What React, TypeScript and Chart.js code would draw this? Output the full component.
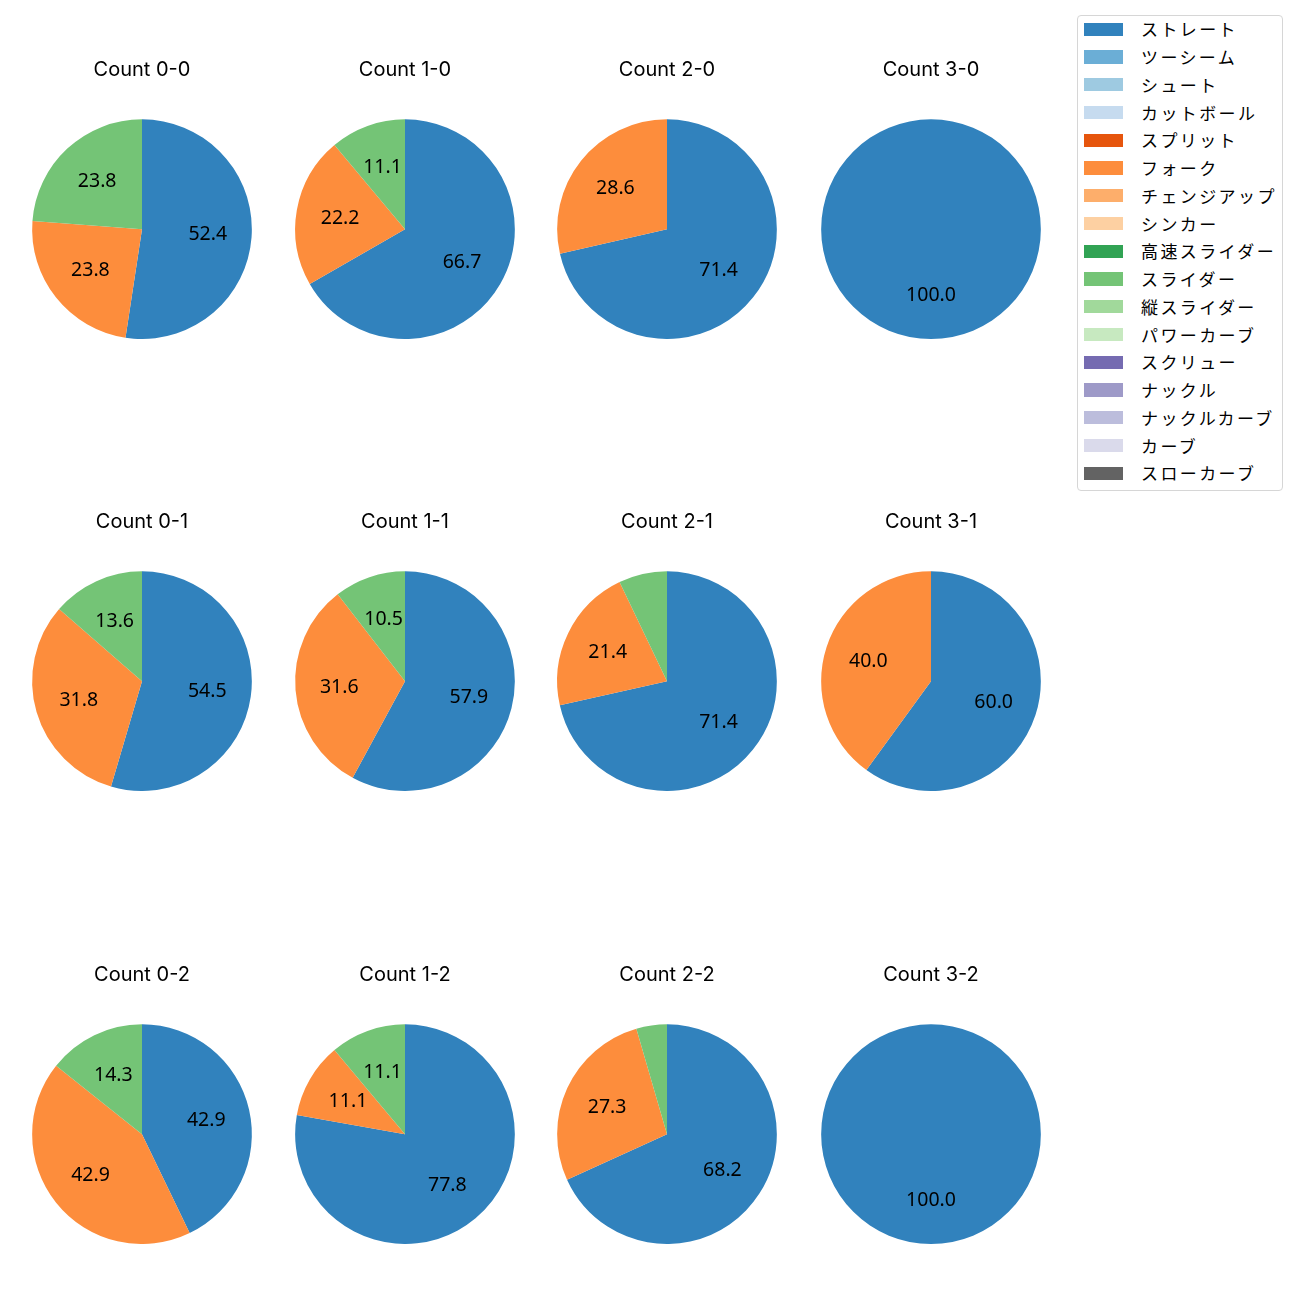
import React, { useEffect, useRef } from "react";
import { Chart, registerables } from "chart.js";

Chart.register(...registerables);

const pitchTypes = [
  "ストレート", "ツーシーム", "シュート", "カットボール", "スプリット", "フォーク",
  "チェンジアップ", "シンカー", "高速スライダー", "スライダー", "縦スライダー",
  "パワーカーブ", "スクリュー", "ナックル", "ナックルカーブ", "カーブ", "スローカーブ",
];
const pitchColors = [
  "#3182bd", "#6baed6", "#9ecae1", "#c6dbef", "#e6550d", "#fd8d3c",
  "#fdae6b", "#fdd0a2", "#31a354", "#74c476", "#a1d99b", "#c7e9c0",
  "#756bb1", "#9e9ac8", "#bcbddc", "#dadaeb", "#636363",
];

// counts in grid order (rows: strikes, columns: balls)
const countLabels = ["0-0", "1-0", "2-0", "3-0", "0-1", "1-1", "2-1", "3-1", "0-2", "1-2", "2-2", "3-2"];
const straightPct = [52.4, 66.7, 71.4, 100.0, 54.5, 57.9, 71.4, 60.0, 42.9, 77.8, 68.2, 100.0];
const forkPct = [23.8, 22.2, 28.6, 0, 31.8, 31.6, 21.4, 40.0, 42.9, 11.1, 27.3, 0];
const sliderPct = [23.8, 11.1, 0, 0, 13.6, 10.5, 7.1, 0, 14.3, 11.1, 4.5, 0];

const CJK = "'Noto Sans CJK JP'";
const colCenters = [141.5, 405, 667, 930.5];
const rowCenters = [229.3, 681.5, 1134];

const labelPlugin = {
  id: "pctLabels",
  afterDatasetsDraw(chart: any) {
    const meta = chart.getDatasetMeta(0);
    const data = chart.data.datasets[0].data as number[];
    const ctx = chart.ctx;
    ctx.save();
    ctx.font = `19.5px 'Noto Sans', ${CJK}, sans-serif`;
    ctx.fillStyle = "#000";
    ctx.textAlign = "center";
    ctx.textBaseline = "middle";
    meta.data.forEach((arc: any, i: number) => {
      const v = data[i];
      if (v < 10) return;
      const p = arc.getProps(["x", "y", "startAngle", "endAngle", "outerRadius"], true);
      const mid = (p.startAngle + p.endAngle) / 2;
      const r = p.outerRadius * 0.6;
      ctx.fillText(v.toFixed(1), p.x + Math.cos(mid) * r, p.y + Math.sin(mid) * r + 0.5);
    });
    ctx.restore();
  },
};

function PieChart({ idx }: { idx: number }) {
  const ref = useRef<HTMLCanvasElement>(null);
  useEffect(() => {
    const values = pitchTypes.map((name) => {
      if (name === "ストレート") return straightPct[idx];
      if (name === "フォーク") return forkPct[idx];
      if (name === "スライダー") return sliderPct[idx];
      return 0;
    });
    const chart = new Chart(ref.current!, {
      type: "pie",
      data: {
        labels: pitchTypes,
        datasets: [
          {
            data: values,
            backgroundColor: pitchColors,
            borderWidth: 0,
            hoverOffset: 0,
            offset: 0,
          } as any,
        ],
      },
      options: {
        responsive: false,
        animation: false,
        events: [],
        layout: { padding: 0 },
        plugins: {
          legend: { display: false },
          tooltip: { enabled: false },
          title: {
            display: true,
            text: `Count ${countLabels[idx]}`,
            color: "#000",
            font: { family: `Inter, ${CJK}, sans-serif`, size: 20, weight: "normal", lineHeight: 1.2 },
            padding: { top: 1, bottom: 37.3 },
          },
        },
      },
      plugins: [labelPlugin],
    });
    return () => chart.destroy();
  }, [idx]);
  const col = idx % 4;
  const row = Math.floor(idx / 4);
  const cx = colCenters[col];
  const cy = rowCenters[row];
  return (
    <canvas
      ref={ref}
      width={262}
      height={282}
      style={{ position: "absolute", left: cx - 131, top: cy - 172.3, width: 262, height: 282 }}
    />
  );
}

export default function App() {
  return (
    <div style={{ position: "absolute", left: 0, top: 0, width: 1300, height: 1300, background: "#fff" }}>
      {countLabels.map((_, i) => (
        <PieChart key={i} idx={i} />
      ))}
      <div
        style={{
          position: "absolute",
          left: 1077,
          top: 15,
          width: 206,
          height: 476,
          border: "1px solid #d6d6d6",
          borderRadius: 4,
          boxSizing: "border-box",
        }}
      />
      {pitchTypes.map((name, i) => {
        const yc = 29.3 + i * 27.75;
        return (
          <React.Fragment key={name}>
            <div
              style={{
                position: "absolute",
                left: 1084,
                top: yc - 6.7,
                width: 39,
                height: 13.4,
                background: pitchColors[i],
              }}
            />
            <div
              style={{
                position: "absolute",
                left: 1141,
                top: yc - 12,
                height: 24,
                lineHeight: "24px",
                fontSize: 17,
                fontFamily: CJK,
                letterSpacing: 2.4,
                color: "#000",
                whiteSpace: "nowrap",
              }}
            >
              {name}
            </div>
          </React.Fragment>
        );
      })}
    </div>
  );
}
